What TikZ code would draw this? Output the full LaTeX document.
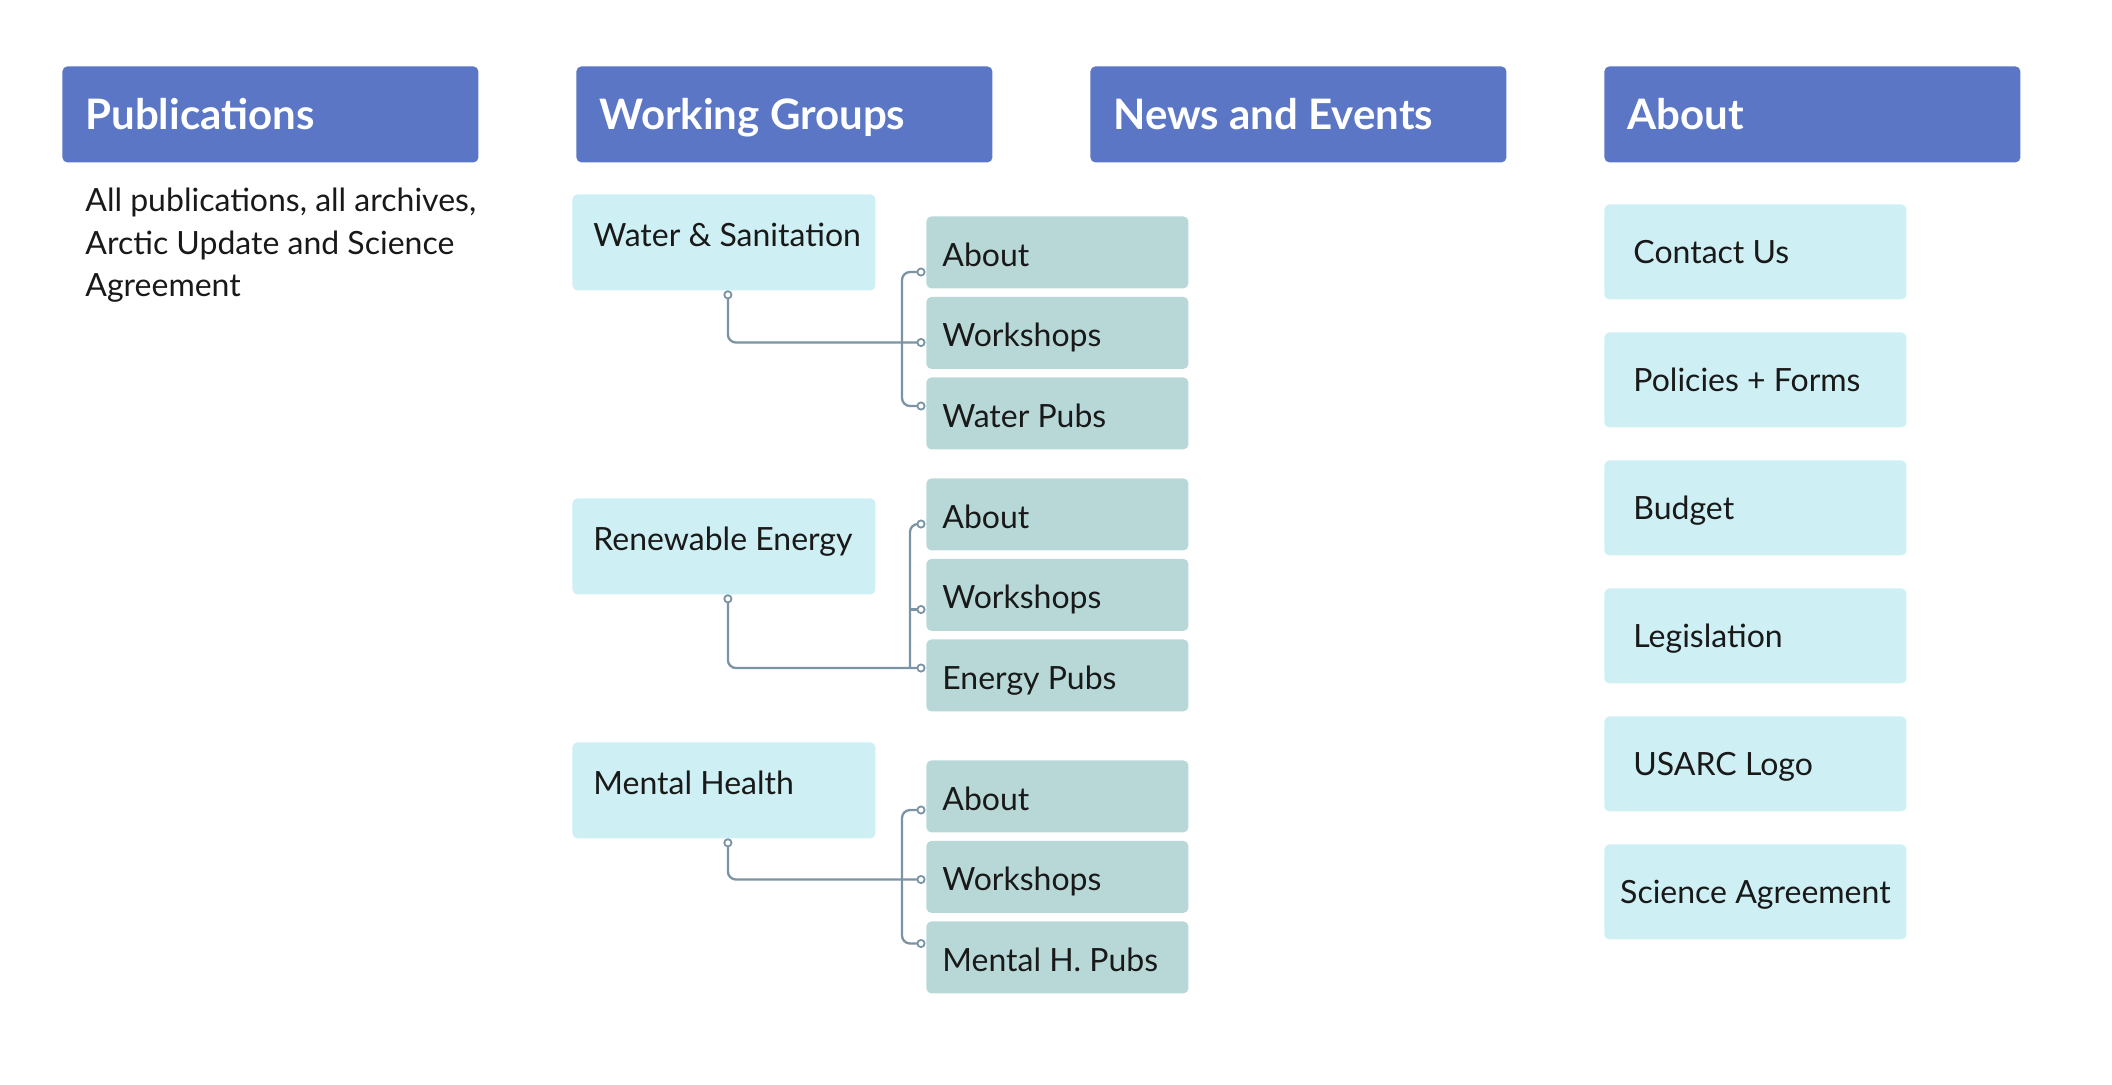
\documentclass[tikz,border=0pt]{standalone}
\usepackage{fontspec}
\setmainfont{Lato}
\usetikzlibrary{positioning,calc}

\definecolor{headblue}{HTML}{5B76C4}
\definecolor{grpcyan}{HTML}{CEEFF3}
\definecolor{subteal}{HTML}{B8D8D8}
\definecolor{linkgray}{HTML}{7A94A4}

\tikzset{
  box/.style={anchor=north west, inner sep=0pt, rounded corners=2.5pt},
  headbox/.style={box, fill=headblue, minimum width=208pt, minimum height=48pt},
  grpbox/.style={box, fill=grpcyan, minimum width=151.5pt, minimum height=48pt},
  subbox/.style={box, fill=subteal, minimum width=131pt, minimum height=36pt},
  aboutbox/.style={box, fill=grpcyan, minimum width=151pt, minimum height=47.5pt},
  txt/.style={anchor=base west, inner sep=0pt, text=black!90, font=\fontsize{16pt}{21.2pt}\selectfont},
  headtxt/.style={txt, text=white, font=\fontsize{21pt}{25pt}\selectfont\bfseries},
  link/.style={draw=linkgray, line width=1.15pt, rounded corners=4pt},
  dot/.style={circle, draw=linkgray, line width=0.9pt, fill=white, inner sep=0pt, minimum size=3.6pt},
}

\begin{document}
\begin{tikzpicture}[x=0.5pt, y=-0.5pt]
    \useasboundingbox (0,0) rectangle (2112,1084);

    % Column headers
    \foreach \name/\x/\txt in {pubs/62/Publications, wg/576/Working Groups, news/1090/News and Events, about/1604/About} {
        \node[headbox] (\name) at (\x,66) {};
        \node[headtxt] (\name-t) at ($(\name.north west)+(23,63)$) {\txt};
    }

    % Publications
    \node[txt, anchor=north west, align=left] (pubs-d) at (85,188) {All publications, all archives,\\Arctic Update and Science\\Agreement};

    % Working groups
    \node[grpbox] (ws) at (572,194) {};
    \node[txt] (ws-t) at ($(ws.north west)+(21,52)$) {Water \& Sanitation};
    \node[grpbox] (re) at (572,498) {};
    \node[txt] (re-t) at ($(re.north west)+(21,52)$) {Renewable Energy};
    \node[grpbox] (mh) at (572,742) {};
    \node[txt] (mh-t) at ($(mh.north west)+(21,52)$) {Mental Health};

    % Sub pages and their link points
    \foreach \g/\top/\pub/\oa/\ob/\oc in {ws/216/Water Pubs/56/46/29, re/478/Energy Pubs/46/51/29, mh/760/Mental H. Pubs/50/39/22.5} {
        \foreach \s/\txt [count=\i from 0] in {a/About, b/Workshops, c/\pub} {
            \node[subbox] (\g-\s) at (926,\top+80.5*\i) {};
            \node[txt] (\g-\s-t) at ($(\g-\s.north west)+(16,50)$) {\txt};
        }
        \coordinate (\g-out) at ($(\g.south)+(4,4)$);
        \coordinate (\g-a-in) at ($(\g-a.north west)+(-5,\oa)$);
        \coordinate (\g-b-in) at ($(\g-b.north west)+(-5,\ob)$);
        \coordinate (\g-c-in) at ($(\g-c.north west)+(-5,\oc)$);
    }
    \coordinate (ws-bar) at ($(ws-b.west)+(-24,0)$);
    \coordinate (re-bar) at ($(re-b.west)+(-16,0)$);
    \coordinate (mh-bar) at ($(mh-b.west)+(-24,0)$);

    % Connectors
    \draw[link] (ws-out) |- (ws-b-in);
    \draw[link] (ws-a-in) -| (ws-bar) |- (ws-c-in);
    \draw[link] (re-out) |- (re-c-in);
    \draw[link] (re-a-in) -| (re-c-in -| re-bar);
    \draw[link] (re-b-in -| re-bar) -- (re-b-in);
    \draw[link] (mh-out) |- (mh-b-in);
    \draw[link] (mh-a-in) -| (mh-bar) |- (mh-c-in);
    \foreach \p in {ws-out, ws-a-in, ws-b-in, ws-c-in, re-out, re-a-in, re-b-in, re-c-in, mh-out, mh-a-in, mh-b-in, mh-c-in}
        \node[dot] (\p-dot) at (\p) {};

    % About
    \foreach \name/\txt [count=\i from 0] in {contact/Contact Us, policies/Policies + Forms, budget/Budget, legis/Legislation, logo/USARC Logo} {
        \node[aboutbox] (\name) at (1604,204+128*\i) {};
        \node[txt] (\name-t) at ($(\name.north west)+(29,59)$) {\txt};
    }
    \node[aboutbox] (science) at (1604,844) {};
    \node[txt, anchor=base] (science-t) at ($(science.north)+(0,59)$) {Science Agreement};
\end{tikzpicture}
\end{document}
